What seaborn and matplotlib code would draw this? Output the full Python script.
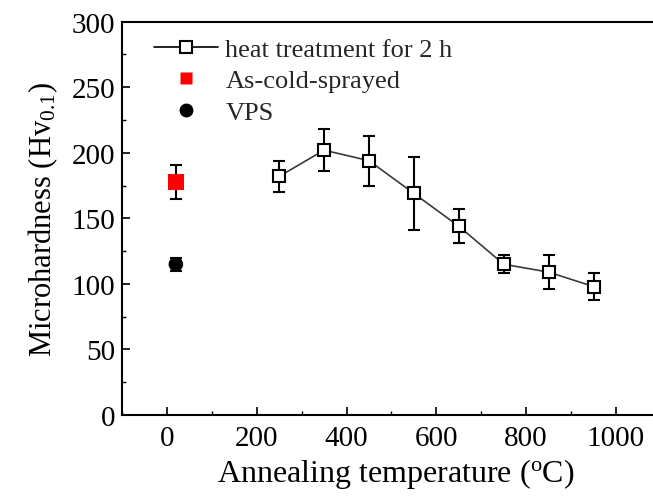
import matplotlib
matplotlib.use("Agg")
import matplotlib.pyplot as plt
from matplotlib.lines import Line2D
from matplotlib.ticker import MultipleLocator
import numpy as np
import pandas as pd
import seaborn as sns

# Heat-treated coatings (2 h at each temperature)
anneal_temp = [250, 350, 450, 550, 650, 750, 850, 950]
anneal_hv = [182, 202, 194, 169, 144, 115, 109, 98]
anneal_err = [12, 16, 19, 28, 13, 7, 13, 10]

# Reference states, plotted at room temperature
cold_temp = [20]
cold_hv = [178]
cold_err = [13]

vps_temp = [20]
vps_hv = [115]
vps_err = [5]

sns.set_theme(style="ticks")
plt.rcParams["font.family"] = ["Liberation Serif", "DejaVu Serif"]
plt.rcParams["mathtext.fontset"] = "custom"
plt.rcParams["mathtext.rm"] = "Liberation Serif"
plt.rcParams["mathtext.it"] = "Liberation Serif:italic"

fig = plt.figure(figsize=(6.53, 5.02), dpi=100)
# axes run past the right edge of the figure, so the right frame is cut off
ax = fig.add_axes([0.1868, 0.1713, 0.839, 0.7835])

df = pd.DataFrame({"T": anneal_temp, "Hv": anneal_hv})
sns.lineplot(data=df, x="T", y="Hv", ax=ax, color="#3a3a3a", lw=1.2,
             marker="s", markersize=9, markerfacecolor="white",
             markeredgecolor="black", markeredgewidth=1.5, zorder=3)
ax.errorbar(anneal_temp, anneal_hv, yerr=anneal_err, fmt="none",
            ecolor="black", elinewidth=1.5, capsize=4, capthick=1.5, zorder=2)

ax.errorbar(cold_temp, cold_hv, yerr=cold_err, fmt="none",
            ecolor="black", elinewidth=1.5, capsize=4, capthick=1.5, zorder=2)
sns.scatterplot(x=cold_temp, y=cold_hv, ax=ax, marker="s", s=130,
                color="#ff0000", edgecolor="none", zorder=4)

ax.errorbar(vps_temp, vps_hv, yerr=vps_err, fmt="none",
            ecolor="black", elinewidth=1.5, capsize=4, capthick=1.5, zorder=2)
sns.scatterplot(x=vps_temp, y=vps_hv, ax=ax, marker="o", s=110,
                color="black", edgecolor="none", zorder=4)

ax.set_xlim(-100, 1120)
ax.set_ylim(0, 300)
ax.xaxis.set_major_locator(MultipleLocator(200))
ax.xaxis.set_minor_locator(MultipleLocator(100))
ax.yaxis.set_major_locator(MultipleLocator(50))
ax.yaxis.set_minor_locator(MultipleLocator(25))
ax.tick_params(axis="both", which="major", direction="in", length=6,
               width=1.2, labelsize=21, color="black", labelcolor="black")
ax.tick_params(axis="both", which="minor", direction="in", length=3,
               width=1.0, color="black")
ax.tick_params(axis="x", which="major", pad=7)
ax.tick_params(axis="y", which="major", pad=5)
for side in ["left", "bottom", "top", "right"]:
    ax.spines[side].set_linewidth(1.5)
    ax.spines[side].set_color("black")

ax.set_xlabel(r"Annealing temperature ($\mathrm{^{o}}$C)", fontsize=23,
              labelpad=4, color="black")
ax.set_ylabel(r"Microhardness (Hv$_{\mathrm{0.1}}$)", fontsize=22,
              labelpad=8, color="black")

handles = [
    Line2D([], [], color="black", lw=1.2, marker="s", markersize=9,
           markerfacecolor="white", markeredgecolor="black",
           markeredgewidth=1.5),
    Line2D([], [], color="#ff0000", lw=0, marker="s", markersize=9,
           markeredgecolor="none"),
    Line2D([], [], color="black", lw=0, marker="o", markersize=10,
           markeredgecolor="none"),
]
labels = ["heat treatment for 2 h", "As-cold-sprayed", "VPS"]
ax.legend(handles, labels, loc="upper left", bbox_to_anchor=(0.03, 1.0),
          frameon=False, fontsize=19, handlelength=2.4, handletextpad=0.3,
          labelspacing=0.3, borderaxespad=0.2)

fig.savefig("out.png", dpi=100)
